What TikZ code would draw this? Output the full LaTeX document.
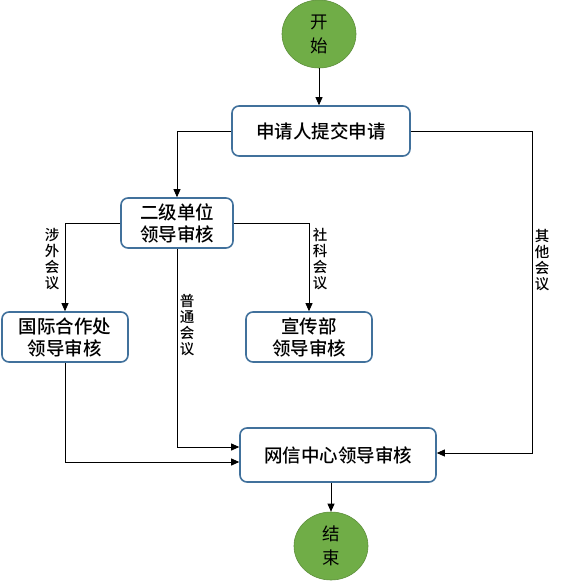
\documentclass[tikz,border=0pt]{standalone}
\usepackage{fontspec}
\setmainfont{Noto Sans CJK SC}
\newfontfamily\cjkmed{Noto Sans CJK SC Medium}
\usetikzlibrary{arrows.meta,shapes.geometric}
\definecolor{boxblue}{HTML}{41719C}
\definecolor{termgreen}{HTML}{70AD47}
\definecolor{termedge}{HTML}{5E8F3C}
\begin{document}
\begin{tikzpicture}[
  x=1pt, y=-1pt,
  align=center,
  font=\cjkmed\fontsize{18.5}{22}\selectfont,
  box/.style={draw=boxblue, line width=1.6pt, rounded corners=7pt,
    fill=white, minimum height=50pt, inner sep=0pt},
  term/.style={ellipse, draw=termedge, fill=termgreen, line width=0.6pt,
    minimum width=74pt, minimum height=68pt, inner sep=0pt,
    font=\fontsize{17.5}{24}\selectfont},
  tag/.style={font=\cjkmed\fontsize{14.5}{16}\selectfont},
  arr/.style={-{Triangle[length=8pt,width=7pt]}, line width=0.8pt}]
\useasboundingbox (0,0) rectangle (562,586);
% nodes
\node [term] (start) at (319,34) {开\\始};
\node [box, minimum width=178pt] (apply) at (321,131) {申请人提交申请};
\node [box, minimum width=112pt] (second) at (177,223) {二级单位\\领导审核};
\node [box, minimum width=126pt] (intl) at (65,337) {国际合作处\\领导审核};
\node [box, minimum width=126pt] (prop) at (309,337) {宣传部\\领导审核};
\node [box, minimum width=196pt, minimum height=54pt] (center) at (338,455) {网信中心领导审核};
\node [term] (end) at (331,546) {结\\束};
\coordinate (other) at (532,453);
% connectors
\draw [arr] (start) -- (start |- apply.north);
\draw [arr] (apply.west) -| (second.north);
\draw [arr] (apply.east) -| (other) -- (other -| center.east);
\draw [arr] (second.west) -| (intl.north);
\draw [arr] (second.east) -| (prop.north);
\draw [arr] (second.south) |- ([yshift=8pt]center.west);
\draw [arr] (intl.south) |- ([yshift=-7pt]center.west);
\draw [arr] (center.south -| end) -- (end);
% labels
\node [tag] (l1) at (52,259) {涉\\外\\会\\议};
\node [tag] (l2) at (320,259) {社\\科\\会\\议};
\node [tag] (l3) at (187,325) {普\\通\\会\\议};
\node [tag] (l4) at (542,260) {其\\他\\会\\议};
\end{tikzpicture}
\end{document}
